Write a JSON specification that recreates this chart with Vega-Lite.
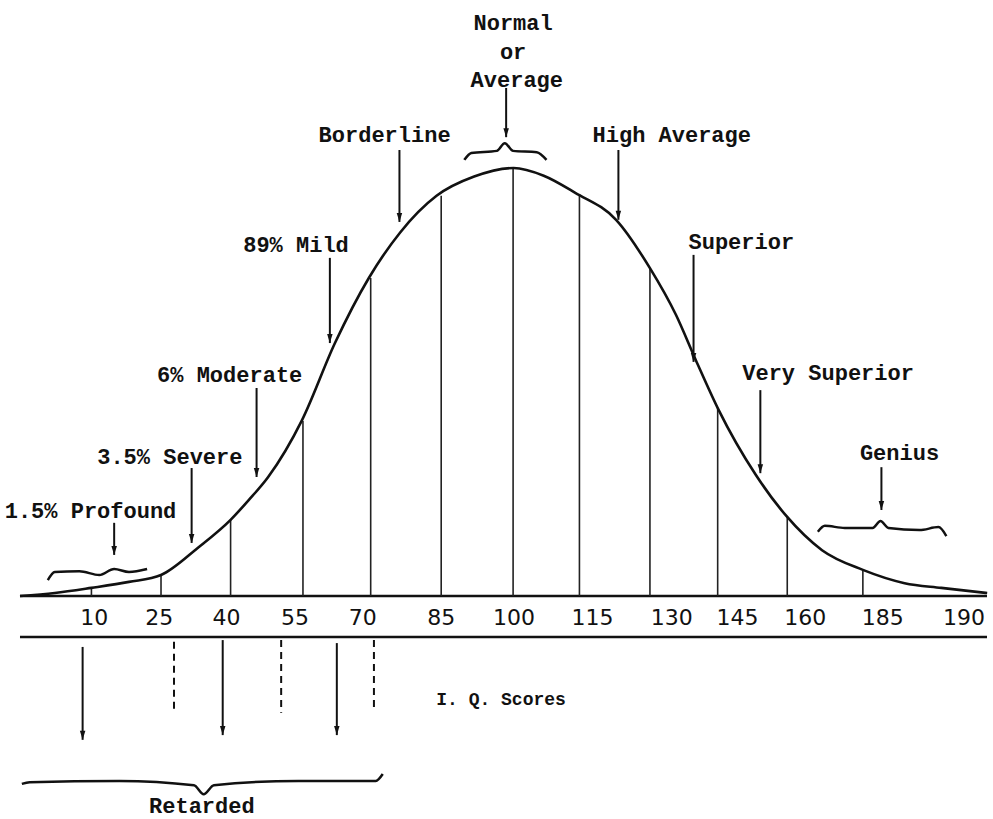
{
  "$schema": "https://vega.github.io/schema/vega-lite/v6.json",
  "width": 993,
  "height": 819,
  "padding": 0,
  "autosize": {"type": "fit", "contains": "padding"},
  "background": "white",
  "config": {"view": {"stroke": null}},
  "datasets": {
    "curve": [
      {"iq": -5.4, "h": 0}, {"iq": 2.1, "h": 0.7}, {"iq": 10, "h": 1.9}, {"iq": 18.1, "h": 3.3},
      {"iq": 25.0, "h": 4.9}, {"iq": 33.1, "h": 11.4}, {"iq": 40.0, "h": 17.8}, {"iq": 43.9, "h": 22.4},
      {"iq": 48.1, "h": 27.8}, {"iq": 55.4, "h": 41.1}, {"iq": 62.5, "h": 59.1}, {"iq": 69.8, "h": 74.3},
      {"iq": 76.6, "h": 85.0}, {"iq": 84.4, "h": 93.5}, {"iq": 92.5, "h": 98.0}, {"iq": 101.0, "h": 100},
      {"iq": 107.5, "h": 98.2}, {"iq": 114.3, "h": 94.2}, {"iq": 123.1, "h": 87.9},
      {"iq": 130.4, "h": 76.6}, {"iq": 136.0, "h": 65.7}, {"iq": 140.3, "h": 55.1}, {"iq": 145.2, "h": 43.5},
      {"iq": 153.1, "h": 28.5}, {"iq": 159.8, "h": 18.7}, {"iq": 167.5, "h": 10.7}, {"iq": 176.3, "h": 6.1},
      {"iq": 185.3, "h": 3.0}, {"iq": 193.2, "h": 1.9}, {"iq": 203.1, "h": 0.7}
    ],
    "verticals": [
      {"iq": 10, "h": 1.9}, {"iq": 25.0, "h": 4.9}, {"iq": 40.0, "h": 17.8}, {"iq": 55.6, "h": 40.9},
      {"iq": 70.2, "h": 74.3}, {"iq": 85.4, "h": 93.5}, {"iq": 100.9, "h": 100}, {"iq": 115.2, "h": 93.9},
      {"iq": 130.4, "h": 76.6}, {"iq": 145.0, "h": 43.9}, {"iq": 160.0, "h": 18.7}, {"iq": 176.3, "h": 6.1}
    ],
    "ticklabels": [
      {"label": "10", "iq": 10.6, "h": -5.1}, {"label": "25", "iq": 24.6, "h": -5.1}, {"label": "40", "iq": 39.1, "h": -5.1},
      {"label": "55", "iq": 53.9, "h": -5.1}, {"label": "70", "iq": 68.5, "h": -5.1}, {"label": "85", "iq": 85.4, "h": -5.1},
      {"label": "100", "iq": 101.1, "h": -5.1}, {"label": "115", "iq": 118.0, "h": -5.1}, {"label": "130", "iq": 135.1, "h": -5.1},
      {"label": "145", "iq": 149.3, "h": -5.1}, {"label": "160", "iq": 163.9, "h": -5.1}, {"label": "185", "iq": 180.6, "h": -5.1},
      {"label": "190", "iq": 198.1, "h": -5.1}
    ],
    "arrows": [
      {"name": "Normal", "iq": 99.4, "h": 118.7, "h2": 107.2},
      {"name": "Borderline", "iq": 76.4, "h": 104.2, "h2": 87.4},
      {"name": "High Average", "iq": 123.6, "h": 104.2, "h2": 87.9},
      {"name": "Mild", "iq": 61.4, "h": 79.0, "h2": 59.1},
      {"name": "Superior", "iq": 139.8, "h": 79.7, "h2": 54.7},
      {"name": "Moderate", "iq": 45.6, "h": 48.6, "h2": 27.8},
      {"name": "Very Superior", "iq": 154.2, "h": 48.1, "h2": 28.7},
      {"name": "Severe", "iq": 31.6, "h": 29.9, "h2": 12.4},
      {"name": "Genius", "iq": 180.3, "h": 30.1, "h2": 20.1},
      {"name": "Profound", "iq": 14.9, "h": 17.1, "h2": 9.6},
      {"name": "r1", "iq": 8.1, "h": -11.9, "h2": -33.6},
      {"name": "r2", "iq": 38.3, "h": -10.3, "h2": -32.5},
      {"name": "r3", "iq": 62.9, "h": -11.0, "h2": -32.5}
    ],
    "dashes": [
      {"iq": 27.8, "h": -10.7, "h2": -27.3},
      {"iq": 50.9, "h": -10.3, "h2": -27.3},
      {"iq": 70.9, "h": -10.3, "h2": -26.2}
    ],
    "hlines": [
      {"iq": -5.4, "iq2": 203.06, "h": 0},
      {"iq": -5.4, "iq2": 203.06, "h": -9.6}
    ],
    "braces": [
      {"brace": "normal", "iq": 90.4, "h": 101.9}, {"brace": "normal", "iq": 91.9, "h": 103.5},
      {"brace": "normal", "iq": 97.4, "h": 104.0}, {"brace": "normal", "iq": 99.1, "h": 105.8},
      {"brace": "normal", "iq": 100.9, "h": 104.0}, {"brace": "normal", "iq": 106.0, "h": 103.7},
      {"brace": "normal", "iq": 108.1, "h": 101.9},
      {"brace": "genius", "iq": 166.6, "h": 15.0}, {"brace": "genius", "iq": 168.1, "h": 16.4},
      {"brace": "genius", "iq": 172.4, "h": 15.9}, {"brace": "genius", "iq": 178.4, "h": 15.9},
      {"brace": "genius", "iq": 180.1, "h": 17.5}, {"brace": "genius", "iq": 181.8, "h": 15.9},
      {"brace": "genius", "iq": 188.5, "h": 15.4}, {"brace": "genius", "iq": 192.6, "h": 16.1},
      {"brace": "genius", "iq": 194.3, "h": 14.0},
      {"brace": "profound", "iq": 0.6, "h": 3.7}, {"brace": "profound", "iq": 2.1, "h": 5.6},
      {"brace": "profound", "iq": 7.4, "h": 5.8}, {"brace": "profound", "iq": 11.7, "h": 4.9},
      {"brace": "profound", "iq": 14.9, "h": 6.3}, {"brace": "profound", "iq": 18.1, "h": 5.6},
      {"brace": "profound", "iq": 22.0, "h": 6.3},
      {"brace": "retarded", "iq": -5.0, "h": -43.9}, {"brace": "retarded", "iq": -3.3, "h": -43.5},
      {"brace": "retarded", "iq": 16.0, "h": -43.2}, {"brace": "retarded", "iq": 32.1, "h": -44.2},
      {"brace": "retarded", "iq": 34.2, "h": -46.3}, {"brace": "retarded", "iq": 36.4, "h": -44.2},
      {"brace": "retarded", "iq": 54.6, "h": -43.2}, {"brace": "retarded", "iq": 71.3, "h": -43.2},
      {"brace": "retarded", "iq": 72.8, "h": -41.6}
    ],
    "labels": [
      {"text": "Normal", "iq": 100.9, "h": 133.9},
      {"text": "or", "iq": 100.9, "h": 127.1},
      {"text": "Average", "iq": 101.7, "h": 120.6},
      {"text": "Borderline", "iq": 73.2, "h": 107.7},
      {"text": "High Average", "iq": 135.1, "h": 107.7},
      {"text": "89% Mild", "iq": 54.1, "h": 82.0},
      {"text": "Superior", "iq": 150.1, "h": 82.7},
      {"text": "6%  Moderate", "iq": 39.8, "h": 51.6},
      {"text": "Very Superior", "iq": 168.8, "h": 52.1},
      {"text": "3.5% Severe", "iq": 26.9, "h": 32.5},
      {"text": "1.5% Profound", "iq": 9.8, "h": 19.9},
      {"text": "Genius", "iq": 184.2, "h": 33.4},
      {"text": "Retarded", "iq": 33.8, "h": -49.0}
    ],
    "caption": [
      {"text": "I. Q. Scores", "iq": 98.3, "h": -24.3}
    ]
  },
  "encoding": {
    "x": {"field": "iq", "type": "quantitative", "scale": {"domain": [-9.71, 203.06], "nice": false, "zero": false}, "axis": null},
    "y": {"field": "h", "type": "quantitative", "scale": {"domain": [-52.1, 139.25], "nice": false, "zero": false}, "axis": null}
  },
  "layer": [
    {
      "data": {"name": "hlines"},
      "mark": {"type": "rule", "color": "#111", "strokeWidth": 2.5},
      "encoding": {"x2": {"field": "iq2"}}
    },
    {
      "data": {"name": "verticals"},
      "mark": {"type": "rule", "color": "#222", "strokeWidth": 1.6},
      "encoding": {"y": {"datum": 0}, "y2": {"field": "h"}}
    },
    {
      "data": {"name": "curve"},
      "mark": {"type": "line", "color": "#111", "strokeWidth": 2.6, "interpolate": "monotone"},
      "encoding": {}
    },
    {
      "data": {"name": "ticklabels"},
      "mark": {"type": "text", "font": "DejaVu Sans", "fontSize": 22, "color": "#111", "align": "center", "baseline": "middle"},
      "encoding": {"text": {"field": "label"}}
    },
    {
      "data": {"name": "arrows"},
      "mark": {"type": "rule", "color": "#111", "strokeWidth": 2},
      "encoding": {"y2": {"field": "h2"}}
    },
    {
      "data": {"name": "arrows"},
      "mark": {"type": "point", "shape": "M-0.55,-1.8L0.55,-1.8L0,0Z", "filled": true, "color": "#111", "size": 100, "opacity": 1},
      "encoding": {"y": {"field": "h2", "type": "quantitative"}}
    },
    {
      "data": {"name": "dashes"},
      "mark": {"type": "rule", "color": "#111", "strokeWidth": 2, "strokeDash": [7, 5]},
      "encoding": {"y2": {"field": "h2"}}
    },
    {
      "data": {"name": "braces"},
      "mark": {"type": "line", "color": "#111", "strokeWidth": 2.5, "interpolate": "monotone"},
      "encoding": {"detail": {"field": "brace"}}
    },
    {
      "data": {"name": "labels"},
      "mark": {"type": "text", "font": "Liberation Mono", "fontSize": 22, "fontWeight": "bold", "color": "#111", "align": "center", "baseline": "middle"},
      "encoding": {"text": {"field": "text"}}
    },
    {
      "data": {"name": "caption"},
      "mark": {"type": "text", "font": "Liberation Mono", "fontSize": 18, "fontWeight": "bold", "color": "#111", "align": "center", "baseline": "middle"},
      "encoding": {"text": {"field": "text"}}
    }
  ]
}
